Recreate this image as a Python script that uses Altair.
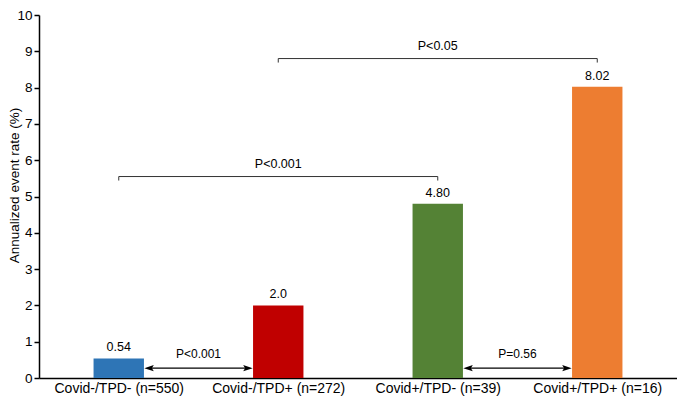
import altair as alt
import pandas as pd

categories = ["Covid-/TPD- (n=550)", "Covid-/TPD+ (n=272)", "Covid+/TPD- (n=39)", "Covid+/TPD+ (n=16)"]
values = [0.54, 2.0, 4.80, 8.02]
value_labels = ["0.54", "2.0", "4.80", "8.02"]
colors = ["#2E75B6", "#C00000", "#548235", "#ED7D31"]

# significance brackets (top): from group index, to group index, height, label
bracket_from = [0, 1]
bracket_to = [2, 3]
bracket_level = [5.55, 8.8]
bracket_label = ["P<0.001", "P<0.05"]

# arrows between neighbouring bars (bottom)
arrow_from = [0, 2]
arrow_to = [1, 3]
arrow_level = [0.27, 0.27]
arrow_label = ["P<0.001", "P=0.56"]
arrow_label_level = [0.65, 0.65]

y_ticks = list(range(0, 11))

FONT = "Liberation Sans"
HALF = 0.158   # half bar width in category units
GAP = 0.19     # arrow offset from bar centre
TICK = 0.11    # bracket end drop

pos = [i + 0.5 for i in range(len(categories))]

bars_df = pd.DataFrame({
    "cat": categories,
    "pos": pos,
    "x1": [p - HALF for p in pos],
    "x2": [p + HALF for p in pos],
    "value": values,
    "zero": [0] * len(values),
    "label": value_labels,
    "color": colors,
})

br_df = pd.DataFrame({
    "xa": [pos[i] for i in bracket_from],
    "xb": [pos[j] for j in bracket_to],
    "level": bracket_level,
    "low": [l - TICK for l in bracket_level],
    "label": bracket_label,
})
br_df["xm"] = (br_df["xa"] + br_df["xb"]) / 2
br_ends = pd.DataFrame({
    "x": list(br_df["xa"]) + list(br_df["xb"]),
    "level": list(br_df["level"]) * 2,
    "low": list(br_df["low"]) * 2,
})

ar_df = pd.DataFrame({
    "xa": [pos[i] + GAP for i in arrow_from],
    "xb": [pos[j] - GAP for j in arrow_to],
    "level": arrow_level,
    "tlevel": arrow_label_level,
    "label": arrow_label,
})
ar_df["xm"] = (ar_df["xa"] + ar_df["xb"]) / 2

xscale = alt.Scale(domain=[0, len(categories)], nice=False, zero=False)
yscale = alt.Scale(domain=[0, 10], nice=False, zero=True)

label_expr = "[" + ",".join("'" + c + "'" for c in categories) + "][floor(datum.value)]"

x_axis = alt.Axis(values=pos, labelExpr=label_expr, ticks=False, grid=False,
                  domainColor="black", domainWidth=1.5, labelFont=FONT, labelFontSize=14,
                  labelColor="black", labelPadding=3, title=None, labelAngle=0,
                  labelOverlap=False)
y_axis = alt.Axis(values=y_ticks, grid=False, domainColor="black", domainWidth=1.5,
                  tickColor="black", tickWidth=1.5, tickSize=5, labelFont=FONT, labelFontSize=13.5,
                  labelColor="black", labelPadding=2, labelOverlap=False,
                  title="Annualized event rate (%)",
                  titleFont=FONT, titleFontSize=13.5, titleFontWeight="normal", titleColor="black",
                  titleX=-18, titleY=170, titleAngle=-90, titleBaseline="bottom")


def X(field):
    return alt.X(field, type="quantitative", scale=xscale, axis=x_axis)


def Y(field):
    return alt.Y(field, type="quantitative", scale=yscale, axis=y_axis)


bars = alt.Chart(bars_df).mark_bar().encode(
    x=X("x1"), x2="x2", y=Y("value"), y2="zero",
    color=alt.Color("color:N", scale=None),
)

bar_text = alt.Chart(bars_df).mark_text(font=FONT, fontSize=12.5, color="black", dy=-11, baseline="middle").encode(
    x=X("pos"), y=Y("value"), text="label:N")

br_h = alt.Chart(br_df).mark_rule(color="#333333", strokeWidth=1).encode(
    x=X("xa"), x2="xb", y=Y("level"))
br_v = alt.Chart(br_ends).mark_rule(color="#333333", strokeWidth=1).encode(
    x=X("x"), y=Y("low"), y2="level")
br_t = alt.Chart(br_df).mark_text(font=FONT, fontSize=12.5, color="black", dy=-13, baseline="middle").encode(
    x=X("xm"), y=Y("level"), text="label:N")

ar_line = alt.Chart(ar_df).mark_rule(color="black", strokeWidth=1.2).encode(
    x=X("xa"), x2="xb", y=Y("level"))
ar_left = alt.Chart(ar_df).mark_point(shape="M-1,0L1,-0.65L0.6,0L1,0.65Z", filled=True, color="black",
                                      size=90, opacity=1).encode(
    x=X("xa"), y=Y("level"))
ar_right = alt.Chart(ar_df).mark_point(shape="M1,0L-1,-0.65L-0.6,0L-1,0.65Z", filled=True, color="black",
                                       size=90, opacity=1).encode(
    x=X("xb"), y=Y("level"))
ar_t = alt.Chart(ar_df).mark_text(font=FONT, fontSize=12, color="black", baseline="middle").encode(
    x=X("xm"), y=Y("tlevel"), text="label:N")

chart = alt.layer(bars, bar_text, br_h, br_v, br_t, ar_line, ar_left, ar_right, ar_t).properties(
    width=638, height=363,
    autosize=alt.AutoSizeParams(type="none"),
    padding={"left": 31, "top": 7, "right": 0, "bottom": 18},
).configure(background="white").configure_view(stroke=None, strokeWidth=0)

chart.save("out.html", embed_options={"renderer": "svg", "actions": False})
